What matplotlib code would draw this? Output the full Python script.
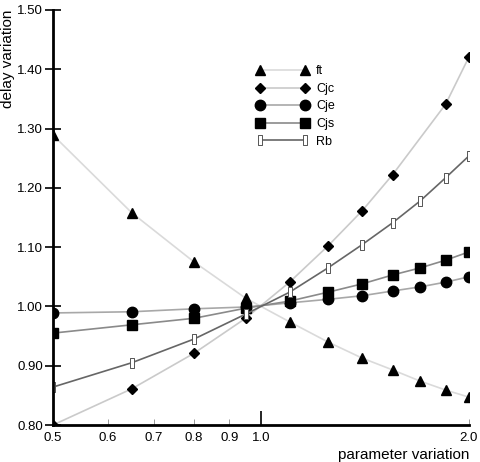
import matplotlib
matplotlib.use("Agg")
import matplotlib.pyplot as plt
from matplotlib.path import Path
from matplotlib.ticker import FixedLocator, FixedFormatter

plt.rcParams['font.family'] = ['Liberation Sans', 'DejaVu Sans']

x_all = [0.5, 0.65, 0.8, 0.95, 1.1, 1.25, 1.4, 1.55, 1.7, 1.85, 2.0]
x_cjc = [0.5, 0.65, 0.8, 0.95, 1.1, 1.25, 1.4, 1.55, 1.85, 2.0]

ft = [1.289, 1.158, 1.075, 1.014, 0.974, 0.940, 0.913, 0.893, 0.874, 0.859, 0.847]
cjc = [0.800, 0.861, 0.921, 0.980, 1.041, 1.102, 1.161, 1.222, 1.341, 1.421]
cje = [0.989, 0.991, 0.996, 0.999, 1.006, 1.012, 1.018, 1.026, 1.033, 1.041, 1.050]
cjs = [0.955, 0.969, 0.980, 0.997, 1.009, 1.024, 1.038, 1.053, 1.065, 1.078, 1.092]
rb = [0.864, 0.905, 0.945, 0.987, 1.024, 1.065, 1.104, 1.141, 1.178, 1.217, 1.254]

minor_ticks = [0.5, 0.6, 0.7, 0.8, 0.9, 2.0]
minor_labels = ['0.5', '0.6', '0.7', '0.8', '0.9', '2.0']
major_ticks = [1.0]
major_labels = ['1.0']
ytick_vals = [0.80, 0.90, 1.00, 1.10, 1.20, 1.30, 1.40, 1.50]

rect = Path([(-0.25, -0.5), (0.25, -0.5), (0.25, 0.5), (-0.25, 0.5), (-0.25, -0.5)],
            [Path.MOVETO, Path.LINETO, Path.LINETO, Path.LINETO, Path.CLOSEPOLY])

fig = plt.figure(figsize=(4.8, 4.62), dpi=100)
ax = fig.add_axes([53/480, 1-425/462, (469-53)/480, (425-10)/462])

ax.plot(x_all, ft, color='#dadada', lw=1.2, marker='^', ms=7, mfc='black', mec='black', label='ft')
ax.plot(x_cjc, cjc, color='#cacaca', lw=1.2, marker='D', ms=5, mfc='black', mec='black', label='Cjc')
ax.plot(x_all, cje, color='#a8a8a8', lw=1.2, marker='o', ms=7.5, mfc='black', mec='black', label='Cje')
ax.plot(x_all, cjs, color='#8a8a8a', lw=1.2, marker='s', ms=7, mfc='black', mec='black', label='Cjs')
ax.plot(x_all, rb, color='#666666', lw=1.2, marker=rect, ms=6.5, mfc='white', mec='#555555', mew=0.7, label='Rb')

ax.set_xscale('log')
ax.set_xlim(0.5, 2.0)
ax.set_ylim(0.80, 1.50)

ax.xaxis.set_major_locator(FixedLocator(major_ticks))
ax.xaxis.set_major_formatter(FixedFormatter(major_labels))
ax.xaxis.set_minor_locator(FixedLocator(minor_ticks))
ax.xaxis.set_minor_formatter(FixedFormatter(minor_labels))
ax.tick_params(axis='x', which='major', direction='in', length=10, width=1.2, labelsize=9.5, pad=5)
ax.tick_params(axis='x', which='minor', direction='in', length=4, width=0.6, color='#888888', labelsize=9.5, pad=5)

ax.set_yticks(ytick_vals)
ax.set_yticklabels(['%.2f' % v for v in ytick_vals])
ax.tick_params(axis='y', direction='inout', length=12, width=1.2, labelsize=9.5, pad=1)

for s in ['top', 'right']:
    ax.spines[s].set_visible(False)
ax.spines['left'].set_linewidth(2)
ax.spines['bottom'].set_linewidth(2)

fig.text(469/480, 1-448/462, 'parameter variation', ha='right', va='top', fontsize=11)
fig.text(1/480, 1-10/462, 'delay variation', ha='left', va='top', rotation=90, fontsize=11)

leg = ax.legend(loc='upper left', bbox_to_anchor=(250/480, 1-59/462), bbox_transform=fig.transFigure,
                frameon=False, numpoints=2, handlelength=4.2, handletextpad=0.6,
                labelspacing=0.45, fontsize=9, borderpad=0)

fig.savefig('out.png', dpi=100)
